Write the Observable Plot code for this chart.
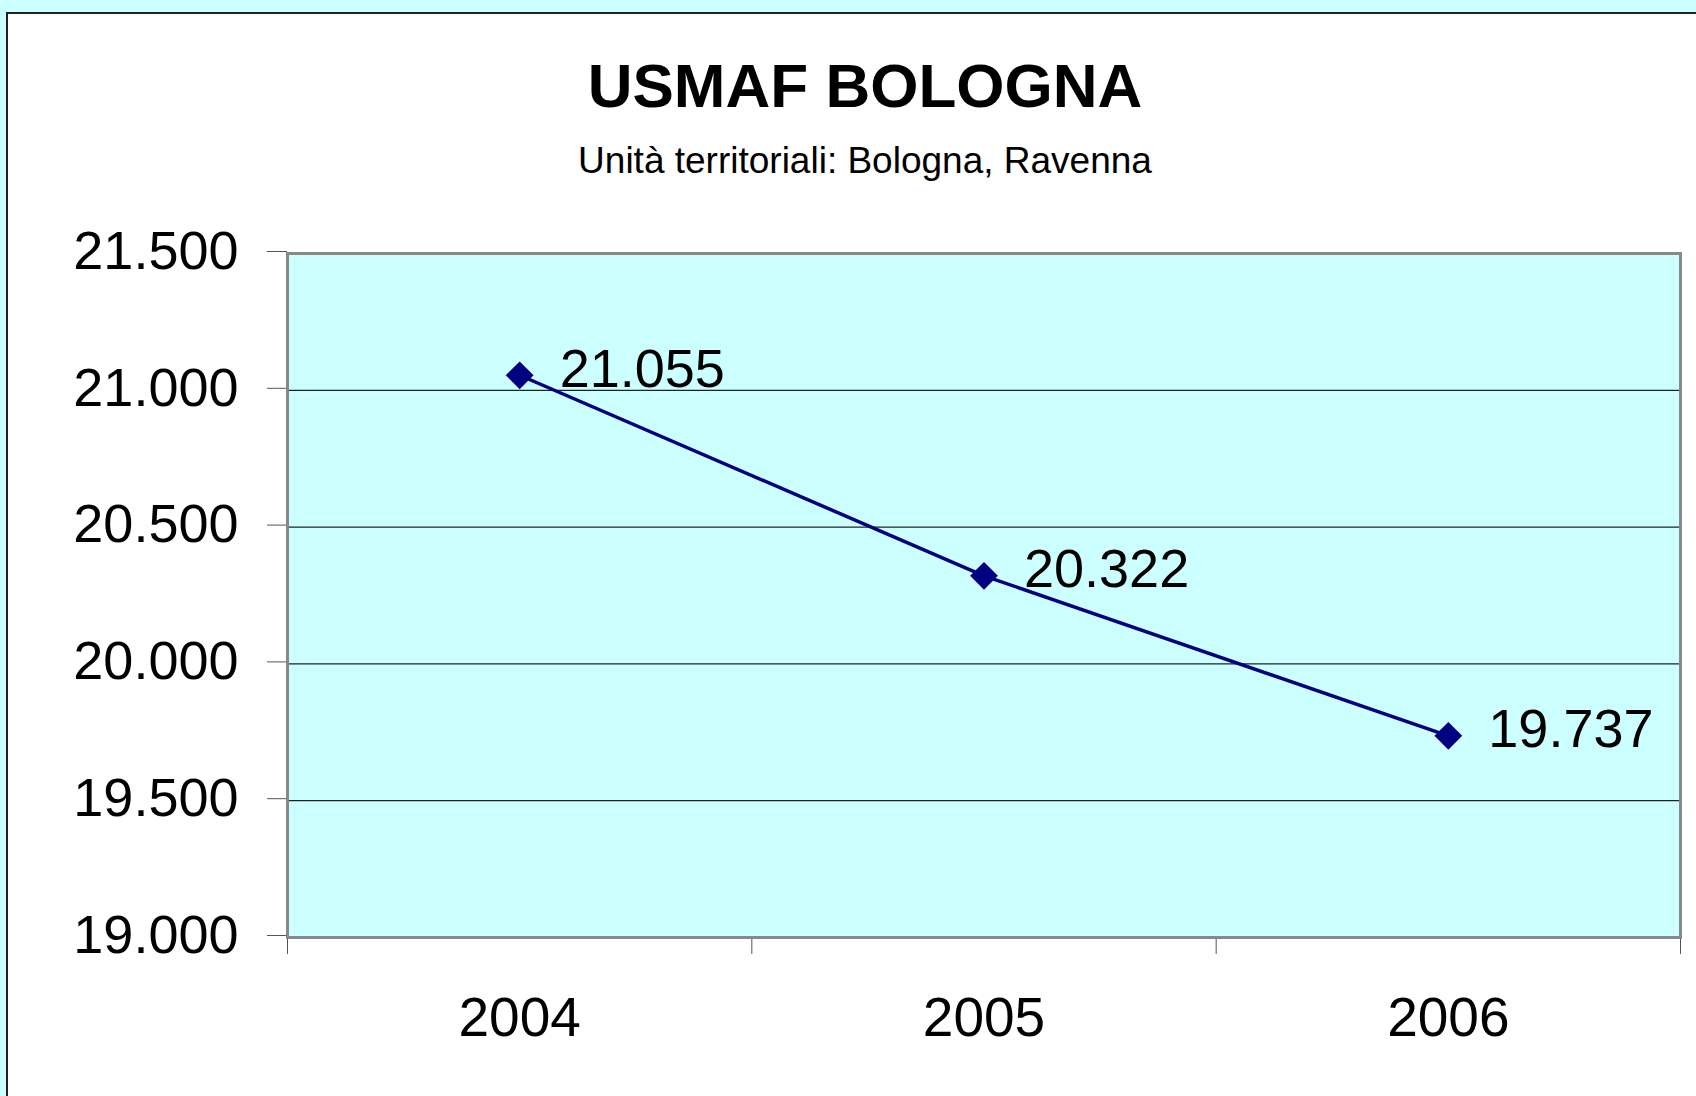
<!DOCTYPE html>
<html>
<head>
<meta charset="utf-8">
<script src="https://cdn.jsdelivr.net/npm/d3@7"></script>
<script src="https://cdn.jsdelivr.net/npm/@observablehq/plot@0.6"></script>
<style>
  html, body { margin: 0; padding: 0; width: 1696px; height: 1096px; overflow: hidden; background: #ccffff; }
  #panel { position: absolute; left: 6px; top: 12px; width: 1710px; height: 1100px; background: #ffffff; border: 2px solid #222; box-sizing: border-box; }
  .ttl { position: absolute; left: 365px; width: 1000px; text-align: center; font-family: "Liberation Sans", Arial, sans-serif; line-height: 1; color: #000; white-space: nowrap; }
  #title { top: 55px; font-size: 62px; font-weight: bold; }
  #subtitle { top: 142px; font-size: 37px; }
  #chart { position: absolute; left: 0; top: 200px; }
</style>
</head>
<body>
<div id="panel"></div>
<div id="title" class="ttl">USMAF BOLOGNA</div>
<div id="subtitle" class="ttl">Unità territoriali: Bologna, Ravenna</div>
<div id="chart"></div>
<script>
const years = [2004, 2005, 2006];
const values = [21055, 20322, 19737];
const yTicks = [19000, 19500, 20000, 20500, 21000, 21500];
const xBoundaries = [2003.5, 2004.5, 2005.5, 2006.5];

const data = years.map((y, i) => ({year: y, value: values[i]}));
const it = d3.formatLocale({decimal: ",", thousands: ".", grouping: [3], currency: ["€", ""]});
const fmt = it.format(",d");

const chart = Plot.plot({
  width: 1696,
  height: 896,
  marginLeft: 287,
  marginRight: 16,
  marginTop: 53,
  marginBottom: 159,
  style: {fontFamily: "'Liberation Sans', Arial, sans-serif", background: "transparent", overflow: "visible"},
  x: {domain: [2003.5, 2006.5], axis: null},
  y: {domain: [19000, 21500], axis: null},
  marks: [
    Plot.frame({fill: "#ccffff", stroke: null}),
    Plot.gridY(yTicks.slice(1, -1), {stroke: "#222", strokeOpacity: 1, strokeWidth: 1.2}),
    Plot.axisY(yTicks, {label: null, tickSize: 20, tickPadding: 29, tickFormat: fmt, fontSize: 54, stroke: "#555", fill: "#000", dy: -2}),
    Plot.axisX(xBoundaries, {label: null, tickSize: 17, tickFormat: () => "", stroke: "#555"}),
    Plot.axisX(years, {label: null, tickSize: 0, tickPadding: 59, tickFormat: d => String(d), fontSize: 55, fill: "#000"}),
    Plot.frame({stroke: "#888", strokeWidth: 3}),
    Plot.line(data, {x: "year", y: "value", stroke: "#000080", strokeWidth: 3.5}),
    Plot.dot(data, {x: "year", y: "value", symbol: "diamond2", r: 12.5, fill: "#000080", stroke: null}),
    Plot.text(data, {x: "year", y: "value", text: d => fmt(d.value), dx: 40, dy: -6, textAnchor: "start", fontSize: 54, fill: "#000"})
  ]
});
document.getElementById("chart").appendChild(chart);
</script>
</body>
</html>
